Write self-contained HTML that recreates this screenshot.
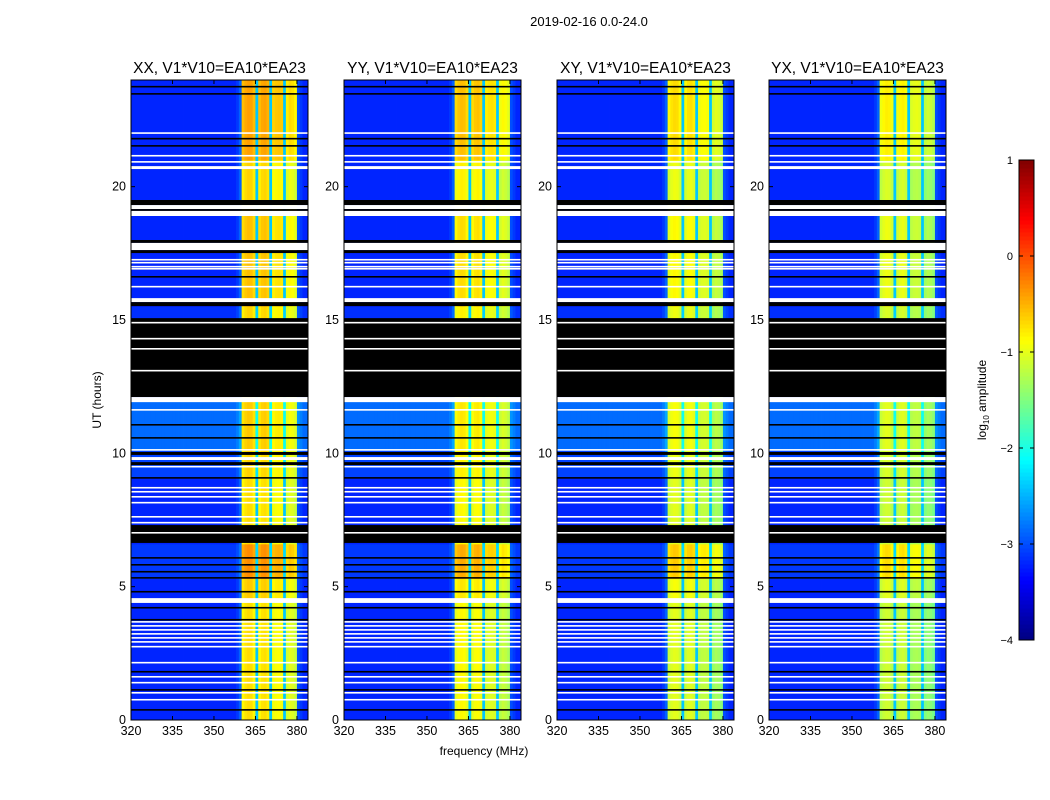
<!DOCTYPE html>
<html><head><meta charset="utf-8">
<style>
body{margin:0;background:#fff;}
svg{display:block;font-family:"Liberation Sans",sans-serif;}
</style></head>
<body>
<svg id="fig" width="1050" height="800" viewBox="0 0 1050 800">
<rect width="1050" height="800" fill="#fff"/>
<text x="589" y="26" font-size="13" text-anchor="middle">2019-02-16 0.0-24.0</text>
<text x="484" y="755" font-size="12" text-anchor="middle">frequency (MHz)</text>
<text transform="translate(101,400) rotate(-90)" font-size="12" text-anchor="middle">UT (hours)</text>
<g id="panels"></g>
<g id="cbar"></g>
</svg>
<script>
// ---- data ----
const polLabels = ["XX, V1*V10=EA10*EA23","YY, V1*V10=EA10*EA23","XY, V1*V10=EA10*EA23","YX, V1*V10=EA10*EA23"];
const polOffset = [0.0, -0.15, -0.3, -0.4];
// channel centre frequencies 320..383 MHz, log10 amplitude per channel
const chanFreq = Array.from({length:64},(_,i)=>320+i);
const chanAmp = [
-3.2,-3.2,-3.2,-3.2,-3.2,-3.2,-3.2,-3.2,-3.2,-3.2,
-3.2,-3.2,-3.2,-3.2,-3.2,-3.2,-3.2,-3.2,-3.2,-3.2,
-3.2,-3.2,-3.2,-3.2,-3.2,-3.2,-3.2,-3.2,-3.2,-3.2,
-3.2,-3.2,-3.2,-3.2,-3.2,-3.2,-3.2,-3.2,-3.1,-2.9,
-0.85,-0.75,-0.7,-0.72,-0.85,-2.4,-0.85,-0.75,-0.72,-0.8,
-2.4,-0.95,-0.9,-0.88,-0.92,-2.4,-1.1,-1.0,-1.05,-1.15,
-3.0,-3.1,-3.2,-3.2];
// time regions [startHour, endHour, backgroundGain, bandGain]
const regionStart = [0, 4.5, 5.3, 6.6, 9.1, 10.1, 12.1, 15.5, 19.1, 21.0];
const regionEnd   = [4.5, 5.3, 6.6, 9.1, 10.1, 12.1, 15.5, 19.1, 21.0, 24.0];
const regionBg    = [0.0, 0.0, 0.1, 0.0, 0.15, 0.35, 0.05, 0.0, 0.0, 0.0];
const regionBand  = [0.0, 0.1, 0.4, 0.0, 0.05, 0.1, 0.05, 0.15, 0.05, 0.3];
// flagged rows [startHour, endHour, kind] kind 0 = black (zero), 1 = white (missing)
const gapStart = [23.72,23.45,21.98,21.77,21.50,21.13,20.90,20.66,19.31,19.16,19.09,18.90,17.89,17.62,17.51,17.23,17.12,16.97,16.89,16.59,16.22,15.67,15.52,12.11,14.87,14.27,13.89,13.07,11.92,11.60,11.04,10.55,10.10,9.94,9.75,9.56,9.47,9.05,8.68,8.53,8.34,8.12,7.59,7.37,6.64,6.99,6.05,5.79,5.53,5.30,4.78,4.39,4.18,3.73,3.65,3.50,3.35,3.20,3.05,2.90,2.72,2.12,1.78,1.59,1.37,1.10,0.99,0.73,0.35];
const gapEnd   = [23.78,23.51,22.04,21.83,21.56,21.19,20.96,20.77,19.50,19.31,19.16,19.09,18.00,17.89,17.62,17.29,17.18,17.03,16.95,16.65,16.28,15.82,15.67,15.07,14.93,14.33,13.95,13.13,12.11,11.66,11.10,10.61,10.16,10.05,9.86,9.67,9.53,9.11,8.74,8.59,8.40,8.18,7.65,7.43,7.31,7.05,6.11,5.85,5.59,5.36,4.84,4.57,4.24,3.79,3.71,3.56,3.41,3.26,3.11,2.96,2.78,2.18,1.84,1.65,1.43,1.16,1.05,0.79,0.41];
const gapKind  = [0,0,1,0,0,1,1,1,0,1,0,1,0,1,0,1,1,1,1,0,1,1,0,0,1,1,1,1,1,1,0,0,1,0,1,0,1,0,1,1,1,1,1,1,0,1,0,0,0,0,0,1,0,0,1,1,1,1,1,1,1,1,0,1,1,0,1,1,0];
const xTicks = [320,335,350,365,380];
const yTicks = [0,5,10,15,20];
const cbTicks = [1,0,-1,-2,-3,-4];

// ---- layout ----
const panelLeft = [131,344,557,769];
const PW = 177, PT = 80, PB = 720;
const fMin = 320, fMax = 384, tMin = 0, tMax = 24;
const vMin = -4, vMax = 1;
const NS = "http://www.w3.org/2000/svg";
function xs(p,f){return panelLeft[p] + (f-fMin)/(fMax-fMin)*PW;}
function ys(h){return PB - (h-tMin)/(tMax-tMin)*(PB-PT);}
function jet(v){
  let t=(v-vMin)/(vMax-vMin); t=Math.max(0,Math.min(1,t));
  const c=x=>Math.round(255*Math.max(0,Math.min(1,x)));
  const r=c(1.5-Math.abs(4*t-3)), g=c(1.5-Math.abs(4*t-2)), b=c(1.5-Math.abs(4*t-1));
  return `rgb(${r},${g},${b})`;
}
function mk(tag,attrs,parent){const e=document.createElementNS(NS,tag);for(const k in attrs)e.setAttribute(k,attrs[k]);parent.appendChild(e);return e;}

const panels=document.getElementById('panels');
for(let p=0;p<4;p++){
  const g=mk('g',{},panels);
  
  
  for(let r=0;r<regionStart.length;r++){
    const y0=ys(regionEnd[r]), y1=ys(regionStart[r]);
    for(let c=0;c<chanFreq.length;c++){
      const base=chanAmp[c];
      const isBand=base>-2;
      const v=base+(isBand?regionBand[r]+polOffset[p]:regionBg[r]);
      const x0=xs(p,chanFreq[c]), x1=xs(p,chanFreq[c]+1);
      const rc=mk('rect',{x:x0.toFixed(2),y:y0.toFixed(2),width:(x1-x0+0.4).toFixed(2),height:(y1-y0+0.3).toFixed(2),fill:jet(v)},g);
      
      
    }
  }
  for(let k=0;k<gapStart.length;k++){
    const y0=ys(gapEnd[k]), y1=ys(gapStart[k]);
    const gr=mk('rect',{x:panelLeft[p],y:y0.toFixed(2),width:PW,height:Math.max(1.5,y1-y0).toFixed(2),fill:gapKind[k]?'#fff':'#000'},g);
    
    
  }
  const fr=mk('rect',{x:panelLeft[p],y:PT,width:PW,height:PB-PT,fill:'none',stroke:'#000','stroke-width':1},g);
  
  
  const tt=mk('text',{x:panelLeft[p]+PW/2,y:PT-7,'font-size':15.5,'text-anchor':'middle'},g);
  tt.textContent=polLabels[p];
  
  
  for(const f of xTicks){
    const x=xs(p,f);
    mk('line',{x1:x,x2:x,y1:PB,y2:PB-4,stroke:'#000'},g);
    mk('line',{x1:x,x2:x,y1:PT,y2:PT+4,stroke:'#000'},g);
    const t=mk('text',{x:x,y:PB+15,'font-size':12.5,'text-anchor':'middle'},g);
    t.textContent=f;
    
    
  }
  for(const h of yTicks){
    const y=ys(h);
    mk('line',{x1:panelLeft[p],x2:panelLeft[p]+4,y1:y,y2:y,stroke:'#000'},g);
    mk('line',{x1:panelLeft[p]+PW,x2:panelLeft[p]+PW-4,y1:y,y2:y,stroke:'#000'},g);
    const t=mk('text',{x:panelLeft[p]-5,y:y+4,'font-size':12.5,'text-anchor':'end'},g);
    t.textContent=h;
    
    
  }
}
// colorbar
const cb=document.getElementById('cbar');


const CBX=1019, CBW=15, CBT=160, CBB=640;
const cbY=v=>CBB-(v-vMin)/(vMax-vMin)*(CBB-CBT);
for(let i=0;i<120;i++){
  const v=vMin+(i+0.5)*(vMax-vMin)/120;
  const y1=CBB-i*(CBB-CBT)/120, y0=CBB-(i+1)*(CBB-CBT)/120;
  mk('rect',{x:CBX,y:y0,width:CBW,height:y1-y0+0.5,fill:jet(v)},cb);
}
mk('rect',{x:CBX,y:CBT,width:CBW,height:CBB-CBT,fill:'none',stroke:'#000'},cb);
for(const v of cbTicks){
  const y=cbY(v);
  mk('line',{x1:CBX,x2:CBX+4,y1:y,y2:y,stroke:'#000'},cb);
  mk('line',{x1:CBX+CBW,x2:CBX+CBW-4,y1:y,y2:y,stroke:'#000'},cb);
  const t=mk('text',{x:CBX-6,y:y+4,'font-size':11,'text-anchor':'end'},cb);
  t.textContent=v<0?'\u2212'+Math.abs(v):String(v);
  
  
}
const cl=mk('text',{transform:'translate(986,400) rotate(-90)','font-size':12,'text-anchor':'middle'},cb);
cl.innerHTML='log<tspan font-size="8" dy="3">10</tspan><tspan dy="-3"> amplitude</tspan>';


</script>
</body></html>
